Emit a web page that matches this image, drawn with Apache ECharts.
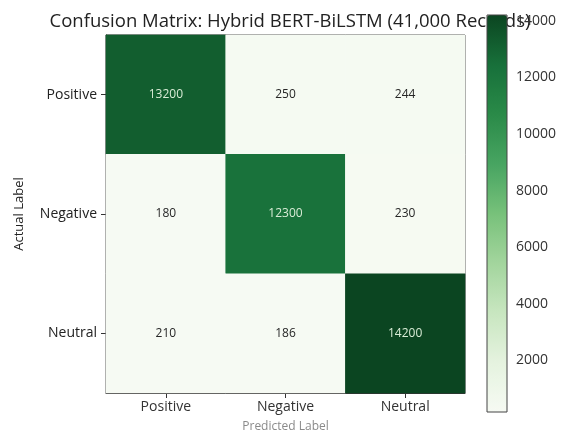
<!DOCTYPE html>
<html>
<head>
<meta charset="utf-8">
<script src="https://cdn.jsdelivr.net/npm/echarts@6/dist/echarts.min.js"></script>
<style>
html,body{margin:0;padding:0;background:#fff;}
#chart{width:565px;height:434px;}
</style>
</head>
<body>
<div id="chart"></div>
<script>
var predictedLabels = ['Positive', 'Negative', 'Neutral'];
var actualLabels = ['Positive', 'Negative', 'Neutral'];
// rows = actual, columns = predicted
var rowPositive = [13200, 250, 244];
var rowNegative = [180, 12300, 230];
var rowNeutral = [210, 186, 14200];
var colorbarTicks = [2000, 4000, 6000, 8000, 10000, 12000, 14000];
var colorMin = 180;
var colorMax = 14200;

var rows = [rowPositive, rowNegative, rowNeutral];
var data = [];
rows.forEach(function (row, r) {
  row.forEach(function (v, c) {
    data.push({
      value: [c, r, v],
      label: { color: v > (colorMin + colorMax) / 2 ? '#d9ecd6' : '#262626' }
    });
  });
});

var font = '"Open Sans", Roboto, sans-serif';
var chart = echarts.init(document.getElementById('chart'), null, { renderer: 'canvas' });
chart.setOption({
  backgroundColor: '#ffffff',
  animation: false,
  textStyle: { fontFamily: font },
  title: {
    text: 'Confusion Matrix: Hybrid BERT-BiLSTM (41,000 Records)',
    left: 285,
    textAlign: 'center',
    top: 7,
    z: 0,
    textStyle: { fontSize: 18.5, fontWeight: 'normal', color: '#222', fontFamily: font }
  },
  grid: [
    { left: 106, top: 35, width: 359, height: 358, show: true, borderColor: '#333', borderWidth: 1, backgroundColor: 'transparent', outerBoundsMode: 'none', containLabel: false },
    { left: 487, top: 15, width: 20, height: 397, show: true, borderColor: '#444', borderWidth: 1, backgroundColor: 'transparent', z: 20, outerBoundsMode: 'none', containLabel: false }
  ],
  xAxis: [
    {
      type: 'category', gridIndex: 0, data: predictedLabels, position: 'bottom',
      axisLine: { show: true, lineStyle: { color: '#333' } },
      axisTick: { show: true, alignWithLabel: true, length: 5, lineStyle: { color: '#333' } },
      axisLabel: { fontSize: 14, color: '#333', margin: 7, fontFamily: font },
      splitLine: { show: false },
      name: 'Predicted Label', nameLocation: 'middle', nameGap: 28,
      nameTextStyle: { fontSize: 12, color: '#8a8a8a', fontFamily: font }
    },
    { type: 'value', gridIndex: 1, show: false, min: 0, max: 1 }
  ],
  yAxis: [
    {
      type: 'category', gridIndex: 0, data: actualLabels, inverse: true,
      axisLine: { show: true, lineStyle: { color: '#333' } },
      axisTick: { show: true, alignWithLabel: true, length: 5, lineStyle: { color: '#333' } },
      axisLabel: { fontSize: 14, color: '#222', margin: 9, fontFamily: font },
      splitLine: { show: false },
      name: 'Actual Label', nameLocation: 'middle', nameGap: 80,
      nameTextStyle: { fontSize: 13, color: '#222', fontFamily: font }
    },
    {
      type: 'value', gridIndex: 1, min: colorMin, max: colorMax, position: 'right',
      axisLine: { show: false },
      axisTick: { show: true, length: 5, customValues: colorbarTicks, lineStyle: { color: '#444' } },
      axisLabel: { fontSize: 14, color: '#333', margin: 9, customValues: colorbarTicks, fontFamily: font,
        formatter: function (v) { return String(v); } },
      splitLine: { show: false }
    }
  ],
  visualMap: {
    type: 'continuous',
    min: colorMin, max: colorMax,
    dimension: 2,
    seriesIndex: 0,
    calculable: false,
    hoverLink: false,
    orient: 'vertical',
    left: 487, top: 15,
    itemWidth: 20, itemHeight: 397,
    padding: 0,
    text: null,
    showLabel: false,
    z: 10,
    inRange: {
      color: ['#f6faf3', '#e5f3df', '#c8e6c0', '#a3d59d', '#77c17a', '#47a461', '#2a8a48', '#17703a', '#0b4521']
    }
  },
  series: [{
    type: 'heatmap',
    xAxisIndex: 0, yAxisIndex: 0,
    data: data,
    label: {
      show: true, fontSize: 12, fontFamily: font,
      formatter: function (p) { return p.value[2]; }
    },
    itemStyle: { borderWidth: 0 },
    emphasis: { disabled: true }
  }]
});
</script>
</body>
</html>
